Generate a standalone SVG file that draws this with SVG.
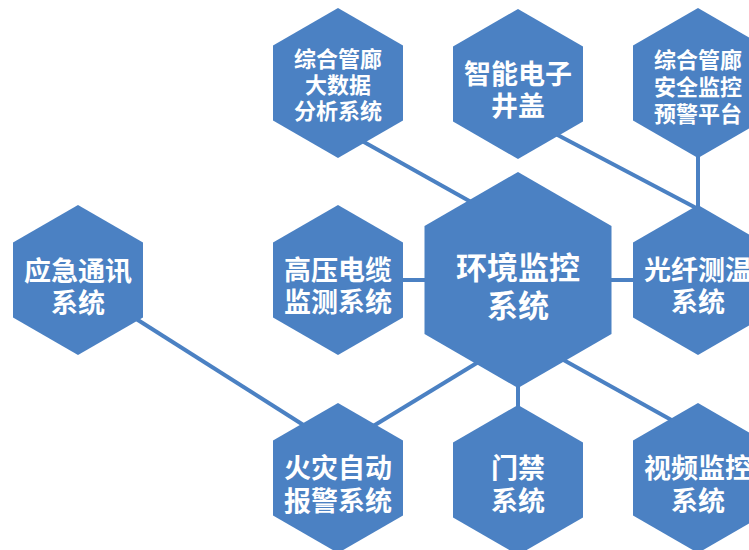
<svg xmlns="http://www.w3.org/2000/svg" width="749" height="550" viewBox="0 0 749 550">
  <defs>
    <polygon id="hs" points="0,-75 65,-37.5 65,37.5 0,75 -65,37.5 -65,-37.5"/>
    <polygon id="hb" points="0,-108 93.5,-54 93.5,54 0,108 -93.5,54 -93.5,-54"/>
    <style>
      .hex { fill: #4b81c3; }
      .conn line { stroke: #4b81c3; stroke-width: 4; stroke-linecap: butt; }
      text { fill: #ffffff; font-family: "Noto Sans CJK SC", "Noto Sans", sans-serif; font-weight: 700; text-anchor: middle; dominant-baseline: central; }
      .t3 { font-size: 22px; }
      .t2 { font-size: 27px; }
      .tb { font-size: 31px; }
    </style>
  </defs>
  <rect width="749" height="550" fill="#ffffff"/>
  <g id="connectors" class="conn">
    <line x1="355" y1="137" x2="480" y2="207"/>
    <line x1="550" y1="131" x2="700" y2="210"/>
    <line x1="698" y1="150" x2="698" y2="212"/>
    <line x1="398" y1="280" x2="432" y2="280"/>
    <line x1="606" y1="280" x2="640" y2="280"/>
    <line x1="518" y1="380" x2="518" y2="412"/>
    <line x1="370" y1="428" x2="485" y2="358"/>
    <line x1="560" y1="358" x2="675" y2="422"/>
    <line x1="130" y1="315" x2="305" y2="426"/>
  </g>
  <g id="node-bigdata">
    <use href="#hs" class="hex" x="338" y="83"/>
    <text class="t3" x="338" y="57">综合管廊</text>
    <text class="t3" x="338" y="83">大数据</text>
    <text class="t3" x="338" y="109">分析系统</text>
  </g>
  <g id="node-manhole">
    <use href="#hs" class="hex" x="518" y="84"/>
    <text class="t2" x="518" y="72">智能电子</text>
    <text class="t2" x="518" y="104">井盖</text>
  </g>
  <g id="node-safety">
    <use href="#hs" class="hex" x="698" y="83"/>
    <text class="t3" x="698" y="58">综合管廊</text>
    <text class="t3" x="698" y="85">安全监控</text>
    <text class="t3" x="698" y="112">预警平台</text>
  </g>
  <g id="node-emergency">
    <use href="#hs" class="hex" x="78" y="280"/>
    <text class="t2" x="78" y="269">应急通讯</text>
    <text class="t2" x="78" y="301">系统</text>
  </g>
  <g id="node-cable">
    <use href="#hs" class="hex" x="338" y="280"/>
    <text class="t2" x="338" y="268">高压电缆</text>
    <text class="t2" x="338" y="300">监测系统</text>
  </g>
  <g id="node-env">
    <use href="#hb" class="hex" x="518" y="280"/>
    <text class="tb" x="518" y="265">环境监控</text>
    <text class="tb" x="518" y="303">系统</text>
  </g>
  <g id="node-fiber">
    <use href="#hs" class="hex" x="698" y="280"/>
    <text class="t2" x="698" y="268">光纤测温</text>
    <text class="t2" x="698" y="300">系统</text>
  </g>
  <g id="node-fire">
    <use href="#hs" class="hex" x="338" y="478"/>
    <text class="t2" x="338" y="466">火灾自动</text>
    <text class="t2" x="338" y="499">报警系统</text>
  </g>
  <g id="node-access">
    <use href="#hs" class="hex" x="518" y="480"/>
    <text class="t2" x="518" y="466">门禁</text>
    <text class="t2" x="518" y="499">系统</text>
  </g>
  <g id="node-video">
    <use href="#hs" class="hex" x="698" y="478"/>
    <text class="t2" x="698" y="466">视频监控</text>
    <text class="t2" x="698" y="499">系统</text>
  </g>
</svg>
